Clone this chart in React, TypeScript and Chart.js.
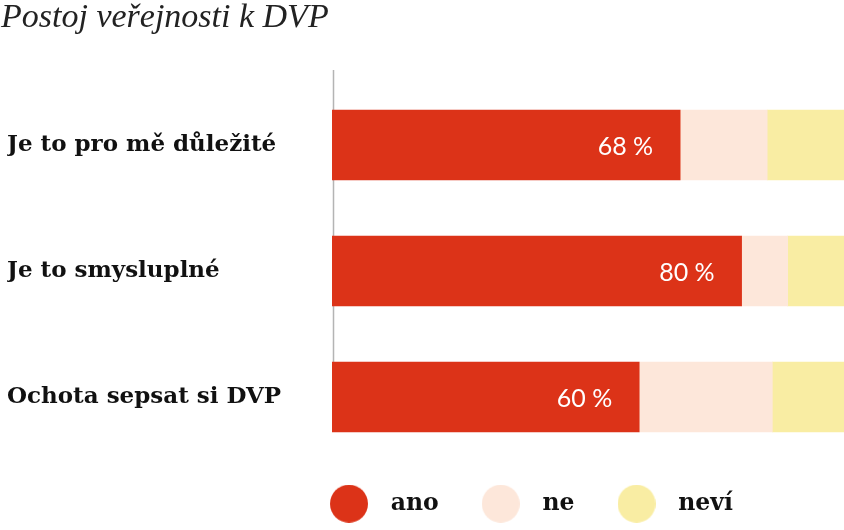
import React, { useEffect, useRef } from "react";
import { Chart, registerables } from "chart.js";

Chart.register(...registerables);

const titleText = "Postoj veřejnosti k DVP";
const categories = ["Je to pro mě důležité", "Je to smysluplné", "Ochota sepsat si DVP"];
const seriesNames = ["ano", "ne", "neví"];
const anoValues = [68, 80, 60];
const neValues = [17, 9, 26];
const neviValues = [15, 11, 14];
const seriesColors = ["#DC3318", "#FDE7DA", "#F9EDA3"];

const SERIF = "'DejaVu Serif', serif";

function makeDot(color: string, d: number) {
  const c = document.createElement("canvas");
  c.width = d;
  c.height = d;
  const ctx = c.getContext("2d")!;
  ctx.fillStyle = color;
  ctx.beginPath();
  ctx.arc(d / 2, d / 2, d / 2, 0, Math.PI * 2);
  ctx.fill();
  return c;
}

const axisLinePlugin = {
  id: "axisLine",
  afterLayout(chart: any) {
    if (chart.titleBlock) chart.titleBlock.left = 1;
    if (chart.legend) chart.legend.left = 287;
  },
  beforeDatasetsDraw(chart: any) {
    const { ctx, chartArea } = chart;
    const meta = chart.getDatasetMeta(0);
    const last = meta.data[meta.data.length - 1] as any;
    const bottom = last.y + last.height / 2;
    ctx.save();
    ctx.strokeStyle = "#B4B4B4";
    ctx.lineWidth = 1.5;
    ctx.beginPath();
    ctx.moveTo(chartArea.left + 1.5, chartArea.top - 12);
    ctx.lineTo(chartArea.left + 1.5, bottom);
    ctx.stroke();
    ctx.restore();
  },
};

const valueLabelPlugin = {
  id: "valueLabels",
  afterDatasetsDraw(chart: any) {
    const { ctx } = chart;
    const meta = chart.getDatasetMeta(0);
    const data = chart.data.datasets[0].data as number[];
    ctx.save();
    ctx.fillStyle = "#FFFFFF";
    ctx.font = "normal 25px Lato, 'Open Sans', sans-serif";
    ctx.textAlign = "right";
    ctx.textBaseline = "middle";
    meta.data.forEach((el: any, i: number) => {
      ctx.fillText(`${data[i]} %`, el.x - 27, el.y + 2);
    });
    ctx.restore();
  },
};

export default function App() {
  const ref = useRef<HTMLCanvasElement>(null);

  useEffect(() => {
    const dots = seriesColors.map((c) => makeDot(c, 38));
    const chart = new Chart(ref.current!, {
      type: "bar",
      data: {
        labels: categories,
        datasets: [
          { label: seriesNames[0], data: anoValues, backgroundColor: seriesColors[0] },
          { label: seriesNames[1], data: neValues, backgroundColor: seriesColors[1] },
          { label: seriesNames[2], data: neviValues, backgroundColor: seriesColors[2] },
        ],
      },
      options: {
        indexAxis: "y",
        responsive: false,
        animation: false,
        layout: { padding: { left: 7, right: 0, top: 0, bottom: 4.5 } },
        datasets: { bar: { barThickness: 70, borderWidth: 0 } },
        scales: {
          x: { stacked: true, min: 0, max: 100, display: false },
          y: {
            stacked: true,
            grid: { display: false },
            border: { display: false },
            afterFit: (scale: any) => {
              scale.width = 325;
            },
            ticks: {
              crossAlign: "far",
              color: "#111111",
              font: { family: SERIF, size: 23, weight: "bold" },
            },
          },
        },
        plugins: {
          tooltip: { enabled: false },
          title: {
            display: true,
            text: titleText,
            align: "start",
            color: "#222222",
            font: { family: "'Liberation Serif', serif", size: 34, style: "italic", weight: "normal", lineHeight: 1.07 },
            padding: { top: 0, bottom: 45.6 },
          },
          legend: {
            display: true,
            position: "bottom",
            align: "start",
            labels: {
              usePointStyle: true,
              pointStyleWidth: 60,
              padding: 32,
              color: "#111111",
              font: { family: SERIF, size: 23.5, weight: "bold" },
              generateLabels: (ch: any) =>
                ch.data.datasets.map((ds: any, i: number) => ({
                  text: ds.label,
                  fillStyle: ds.backgroundColor,
                  strokeStyle: ds.backgroundColor,
                  lineWidth: 0,
                  pointStyle: dots[i],
                  hidden: false,
                  datasetIndex: i,
                  fontColor: "#111111",
                })),
            },
          },
        },
      },
      plugins: [axisLinePlugin, valueLabelPlugin],
    } as any);
    return () => chart.destroy();
  }, []);

  return (
    <div style={{ position: "absolute", left: 0, top: 0, width: 844, height: 530, background: "#fff" }}>
      <canvas ref={ref} width={844} height={530} style={{ display: "block" }} />
    </div>
  );
}
